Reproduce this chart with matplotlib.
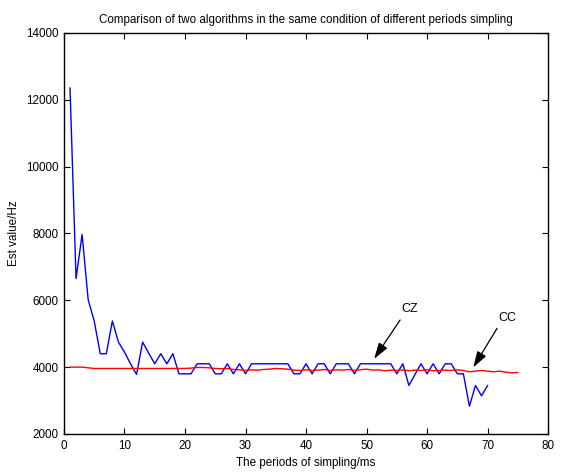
import matplotlib
matplotlib.use('Agg')
import matplotlib.pyplot as plt

plt.rcParams['font.family'] = ['Liberation Sans', 'DejaVu Sans']

# CZ algorithm estimates (blue), periods 1..70 ms
cz_x = list(range(1, 71))
cz_y = [12350, 6650, 7970, 6020, 5380, 4400, 4400, 5380, 4750, 4450,
        4100, 3780, 4750, 4420, 4100, 4400, 4100, 4400, 3800, 3800,
        3800, 4100, 4100, 4100, 3800, 3800, 4100, 3800, 4100, 3800,
        4100, 4100, 4100, 4100, 4100, 4100, 4100, 3800, 3800, 4100,
        3800, 4100, 4100, 3800, 4100, 4100, 4100, 3800, 4100, 4100,
        4100, 4100, 4100, 4100, 3800, 4100, 3450, 3780, 4100, 3800,
        4100, 3800, 4100, 4100, 3800, 3800, 2830, 3450, 3140, 3450]

# CC algorithm estimates (red), periods 1..75 ms
cc_x = list(range(1, 76))
cc_y = [4000, 4000, 4000, 3980, 3960, 3960, 3960, 3960, 3960, 3960,
        3960, 3960, 3960, 3960, 3960, 3960, 3960, 3960, 3960, 3960,
        3970, 3990, 3990, 3980, 3960, 3950, 3960, 3930, 3920, 3900,
        3920, 3910, 3930, 3940, 3960, 3950, 3940, 3910, 3900, 3920,
        3900, 3910, 3930, 3900, 3920, 3910, 3930, 3900, 3920, 3940,
        3910, 3920, 3890, 3910, 3900, 3920, 3890, 3910, 3900, 3920,
        3890, 3900, 3910, 3900, 3920, 3900, 3860, 3880, 3900, 3880,
        3860, 3880, 3850, 3830, 3840]

fig = plt.figure(figsize=(5.61, 4.73), dpi=100)
ax = fig.add_axes([0.114, 0.0825, 0.863, 0.848])

ax.plot(cz_x, cz_y, color='blue', linewidth=1.0)
ax.plot(cc_x, cc_y, color='red', linewidth=1.0)

ax.set_xlim(0, 80)
ax.set_ylim(2000, 14000)
ax.set_xticks(range(0, 81, 10))
ax.set_yticks(range(2000, 14001, 2000))
ax.tick_params(direction='in', top=True, right=True, labelsize=8.4, length=4, pad=4)
for s in ax.spines.values():
    s.set_linewidth(1.0)

ax.set_title('Comparison of two algorithms in the same condition of different periods simpling',
             fontsize=8.4, pad=7)
ax.set_xlabel('The periods of simpling/ms', fontsize=8.4, labelpad=4)
ax.set_ylabel('Est value/Hz', fontsize=8.4, labelpad=4)

arrow = dict(arrowstyle='-|>,head_length=0.7,head_width=0.22', color='black',
             lw=0.9, mutation_scale=14)
ax.annotate('', xy=(51.0, 4180), xytext=(55.8, 5480), arrowprops=arrow)
ax.annotate('', xy=(67.4, 3920), xytext=(71.8, 5230), arrowprops=arrow)
ax.text(57.2, 5730, 'CZ', fontsize=9, ha='center', va='center')
ax.text(73.3, 5460, 'CC', fontsize=9, ha='center', va='center')

fig.savefig('out.png', dpi=100)
